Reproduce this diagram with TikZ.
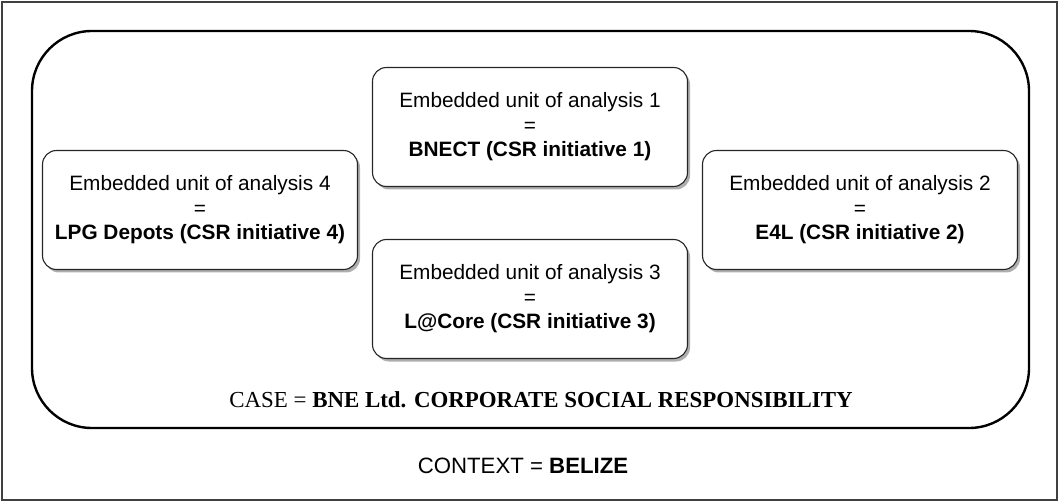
\documentclass[tikz,border=0pt]{standalone}
\usepackage{fontspec}
\setmainfont{Liberation Sans}
\newfontfamily\timesfont{Liberation Serif}
\usetikzlibrary{shadows}

\begin{document}
\begin{tikzpicture}[x=1pt, y=-1pt,
  unitbox/.style={draw=black!85, line width=1.1pt, rounded corners=14pt,
    fill=white, minimum width=315pt, minimum height=119pt, align=center,
    font=\fontsize{20.8}{24.5}\selectfont,
    drop shadow={shadow xshift=2.5pt, shadow yshift=-3pt, fill=black!45, opacity=0.7}}]
\useasboundingbox (0,0) rectangle (1059,502);
\draw[line width=2pt, black!75] (2,2) rectangle (1057,500);
\draw[line width=2.4pt, rounded corners=60pt] (32,31) rectangle (1029,428);
\node[unitbox] (u1) at (530,127) {Embedded unit of analysis 1\\=\\\textbf{BNECT (CSR initiative 1)}};
\node[unitbox] (u4) at (200,210) {Embedded unit of analysis 4\\=\\\textbf{LPG Depots (CSR initiative 4)}};
\node[unitbox] (u2) at (860,210) {Embedded unit of analysis 2\\=\\\textbf{E4L (CSR initiative 2)}};
\node[unitbox] (u3) at (530,299) {Embedded unit of analysis 3\\=\\\textbf{L@Core (CSR initiative 3)}};
\node[font=\timesfont\fontsize{22.9}{26}\selectfont] (case) at (541,400) {CASE = \textbf{BNE Ltd. CORPORATE SOCIAL RESPONSIBILITY}};
\node[font=\fontsize{22.2}{26}\selectfont] (context) at (523,466) {CONTEXT = \textbf{BELIZE}};
\end{tikzpicture}
\end{document}
